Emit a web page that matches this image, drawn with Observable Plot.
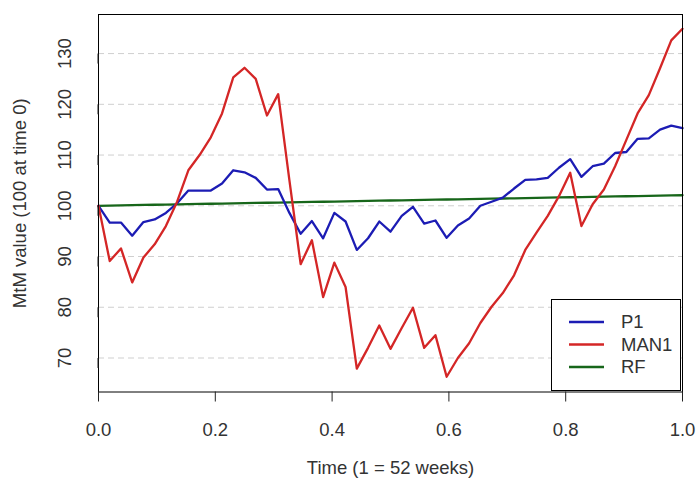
<!DOCTYPE html>
<html>
<head>
<meta charset="utf-8">
<script src="https://cdn.jsdelivr.net/npm/d3@7"></script>
<script src="https://cdn.jsdelivr.net/npm/@observablehq/plot@0.6"></script>
<style>
  html, body { margin: 0; padding: 0; background: #fff; }
  #wrap { position: relative; width: 696px; height: 484px; font-family: "Liberation Sans", Arial, sans-serif; }
  #legend { position: absolute; left: 551px; top: 299px; width: 130px; height: 92px; border: 1px solid #000; background: #fff; box-sizing: border-box; }
</style>
</head>
<body>
<div id="wrap"></div>
<script>
// Weekly MtM values (53 observations, weeks 0..52)
const P1 = [100, 96.7, 96.7, 94.1, 96.8, 97.3, 98.6, 100.5, 103, 103, 103, 104.4, 107, 106.6, 105.5, 103.2, 103.3, 98.6, 94.5, 97, 93.6, 98.6, 96.9, 91.3, 93.6, 96.9, 94.9, 98, 99.8, 96.5, 97.1, 93.7, 96.1, 97.5, 100, 100.8, 101.6, 103.4, 105.1, 105.2, 105.5, 107.5, 109.2, 105.7, 107.8, 108.3, 110.4, 110.6, 113.2, 113.3, 115, 115.8, 115.3];
const MAN1 = [100, 89.1, 91.6, 84.9, 89.8, 92.4, 96, 100.8, 107, 110, 113.5, 118.2, 125.3, 127.2, 125, 117.8, 122, 105, 88.5, 93.2, 82, 88.8, 84, 67.9, 72, 76.4, 71.8, 75.9, 79.9, 72, 74.5, 66.3, 70, 72.9, 76.9, 80.1, 82.8, 86.3, 91.3, 94.7, 98, 101.9, 106.5, 96, 100.3, 103.2, 107.8, 113, 118.2, 121.8, 127.1, 132.6, 134.9];
const RF = [100.00, 100.04, 100.08, 100.12, 100.16, 100.20, 100.24, 100.28, 100.32, 100.36, 100.40, 100.44, 100.48, 100.52, 100.56, 100.60, 100.64, 100.68, 100.72, 100.76, 100.80, 100.84, 100.88, 100.92, 100.96, 101.00, 101.04, 101.08, 101.12, 101.16, 101.20, 101.24, 101.28, 101.32, 101.36, 101.40, 101.44, 101.48, 101.52, 101.56, 101.60, 101.64, 101.68, 101.72, 101.76, 101.80, 101.84, 101.88, 101.92, 101.96, 102.00, 102.04, 102.08];

const seriesNames = ["P1", "MAN1", "RF"];
const seriesColors = ["#1c1cb4", "#d42626", "#17661a"];
const xTicks = [0, 0.2, 0.4, 0.6, 0.8, 1.0];
const yTicks = [70, 80, 90, 100, 110, 120, 130];
const xTitle = "Time (1 = 52 weeks)";
const yTitle = "MtM value (100 at time 0)";

const seriesValues = {P1, MAN1, RF};
const rows = [];
for (const name of ["RF", "P1", "MAN1"]) {
  seriesValues[name].forEach((v, i) => rows.push({name, t: i / 52, v}));
}

const chart = Plot.plot({
  width: 696,
  height: 484,
  marginLeft: 98,
  marginRight: 14,
  marginTop: 14,
  marginBottom: 92.5,
  x: {domain: [0, 1]},
  y: {domain: [63.3, 137.7]},
  color: {domain: seriesNames, range: seriesColors},
  style: {fontFamily: "'Liberation Sans', Arial, sans-serif", fontSize: "18.5px", color: "#333", background: "#fff", overflow: "visible"},
  marks: [
    Plot.ruleY(yTicks, {stroke: "#cfcfcf", strokeDasharray: "6,4", strokeWidth: 1}),
    Plot.line(rows, {x: "t", y: "v", z: "name", stroke: "name", strokeWidth: 2.3}),
    Plot.frame({stroke: "#000", strokeWidth: 1}),
    Plot.axisX({ticks: xTicks, tickFormat: d => d.toFixed(1), tickSize: 10, tickPadding: 21, label: null, stroke: "#222"}),
    Plot.axisY({ticks: yTicks, tickSize: 10, tickPadding: 23, rotate: -90, textAnchor: "middle", label: null, stroke: "#222"}),
    Plot.text([xTitle], {frameAnchor: "bottom", dy: 82, fontSize: 18.5, fill: "#333"}),
    Plot.text([yTitle], {frameAnchor: "left", dx: -78, rotate: -90, textAnchor: "middle", fontSize: 18.5, fill: "#333"})
  ]
});

const wrap = document.getElementById("wrap");
wrap.appendChild(chart);

// Legend (R-style boxed legend in the lower-right corner)
const legend = document.createElement("div");
legend.id = "legend";
const ns = "http://www.w3.org/2000/svg";
const lsvg = document.createElementNS(ns, "svg");
lsvg.setAttribute("width", "128");
lsvg.setAttribute("height", "90");
seriesNames.forEach((name, i) => {
  const cy = 22 + i * 22.5;
  const ln = document.createElementNS(ns, "line");
  ln.setAttribute("x1", 17); ln.setAttribute("x2", 52);
  ln.setAttribute("y1", cy); ln.setAttribute("y2", cy);
  ln.setAttribute("stroke", seriesColors[i]);
  ln.setAttribute("stroke-width", 2.3);
  lsvg.appendChild(ln);
  const tx = document.createElementNS(ns, "text");
  tx.setAttribute("x", 69); tx.setAttribute("y", cy);
  tx.setAttribute("dy", "0.35em");
  tx.setAttribute("font-size", "18.5px");
  tx.setAttribute("fill", "#333");
  tx.setAttribute("font-family", "'Liberation Sans', Arial, sans-serif");
  tx.textContent = name;
  lsvg.appendChild(tx);
});
legend.appendChild(lsvg);
wrap.appendChild(legend);
</script>
</body>
</html>
